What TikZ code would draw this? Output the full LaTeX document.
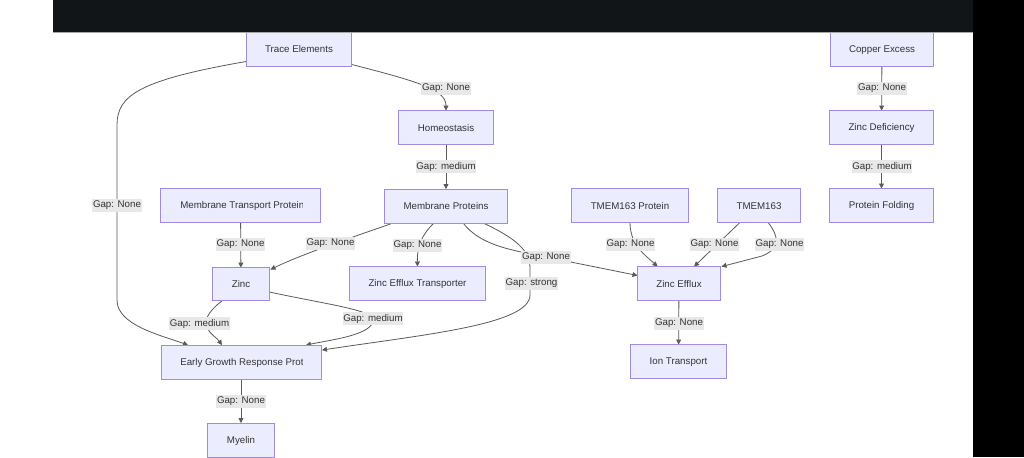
\documentclass[tikz,border=0pt]{standalone}
\usepackage{fontspec}
\setmainfont{Liberation Sans}
\usetikzlibrary{arrows.meta,calc}
\definecolor{boxfill}{HTML}{ECECFF}
\definecolor{boxline}{HTML}{A08AE2}
\definecolor{txt}{HTML}{333333}
\definecolor{conncol}{HTML}{5A5A5A}
\definecolor{lblbg}{HTML}{E8E8E8}
\definecolor{barcol}{HTML}{111518}
\begin{document}
\begin{tikzpicture}[x=0.75pt,y=-0.75pt,
  every node/.style={font=\fontsize{7.3pt}{8.8pt}\selectfont, text=txt},
  box/.style 2 args={draw=boxline, fill=boxfill, line width=0.6pt, inner sep=0pt,
     minimum width=#1*0.75pt, minimum height=#2*0.75pt},
  lbl/.style={fill=lblbg, inner xsep=0.6pt, inner ysep=0pt, minimum height=13*0.75pt},
  conn/.style={draw=conncol, line width=0.6pt, -{Triangle[length=3.8pt,width=3.6pt]}}]
\useasboundingbox (0,0) rectangle (1024,457);
\fill[white] (0,0) rectangle (1024,457);

% nodes (placed first, drawn later for layering)
\path
  (299,49)      node[box={104}{34}] (te) {}
  (882,49.5)    node[box={102}{33}] (ce) {}
  (881.5,127.5) node[box={103}{33}] (zd) {}
  (881.5,205.5) node[box={103}{33}] (pf) {}
  (446,127.5)   node[box={94}{33}] (ho) {}
  (446,206)     node[box={122}{33}] (mp) {}
  (240.5,205.5) node[box={159}{33}] (mtp) {}
  (241,284)     node[box={56}{32}] (zn) {}
  (241,362)     node[box={159}{33}] (egr) {}
  (241,440)     node[box={66}{33}] (my) {}
  (417.5,283.5) node[box={135}{33}] (zet) {}
  (630,205.5)   node[box={116}{33}] (tp) {}
  (759,205.5)   node[box={82}{33}] (tm) {}
  (679,283.5)   node[box={82}{33}] (ze) {}
  (678.5,361.5) node[box={95}{33}] (it) {};

% connectors
\draw[conn] ($(te.south east)+(0,-2)$) .. controls (420,82) and (446,90) .. (ho.north);
\draw[conn] ($(te.south west)+(0,-5)$) .. controls (140,80) and (117,95) .. (117,125)
   -- (117,300) .. controls (117,325) and (160,335) .. ($(egr.north west)+(27,0)$);
\draw[conn] (ho) -- (mp);
\draw[conn] (ce) -- (zd);
\draw[conn] (zd) -- (pf);
\draw[conn] (mtp) -- (zn);
\draw[conn] ($(mp.south west)+(9,0)$) .. controls (350,238) and (300,255) .. ($(zn.north east)+(1,2)$);
\draw[conn] ($(mp.south)+(-12,0)$) .. controls (422,235) and (417,245) .. (zet.north);
\draw[conn] ($(mp.south)+(17,0)$) .. controls (480,245) and (510,250) .. (546,257) -- ($(ze.west)+(0,-8)$);
\draw[conn] ($(mp.south)+(37,0)$) .. controls (515,238) and (530,250) .. (530,268)
   -- (530,295) .. controls (530,325) and (420,335) .. ($(egr.north east)+(1,5)$);
\draw[conn] ($(zn.south west)+(10,0)$) .. controls (190,325) and (215,335) .. ($(egr.north)+(-19,0)$);
\draw[conn] ($(zn.east)+(0,8)$) .. controls (330,305) and (373,310) .. (373,320)
   .. controls (373,335) and (330,340) .. ($(egr.north east)+(-15,0)$);
\draw[conn] (tp.south) .. controls (630,245) and (645,255) .. ($(ze.north west)+(20,0)$);
\draw[conn] ($(tm.south)+(-19,0)$) -- ($(ze.north)+(15,0)$);
\draw[conn] ($(tm.south)+(9,0)$) .. controls (778,235) and (782,248) .. (762,256) -- ($(ze.north east)+(1,0)$);
\draw[conn] (ze) -- (it);
\draw[conn] (egr) -- (my);

% edge labels
\node[lbl] (l1) at (446,88.5) {Gap: None};
\node[lbl] (l2) at (117,205.5) {Gap: None};
\node[lbl] (l3) at (446,166.5) {Gap: medium};
\node[lbl] (l4) at (882,88.5) {Gap: None};
\node[lbl] (l5) at (882,166.5) {Gap: medium};
\node[lbl] (l6) at (240.5,244.5) {Gap: None};
\node[lbl] (l7) at (330.5,243) {Gap: None};
\node[lbl] (l8) at (417.5,245) {Gap: None};
\node[lbl] (l9) at (546,257.5) {Gap: None};
\node[lbl] (l10) at (531.5,283.5) {Gap: strong};
\node[lbl] (l11) at (199.5,323.5) {Gap: medium};
\node[lbl] (l12) at (373,318.5) {Gap: medium};
\node[lbl] (l13) at (630.5,244.5) {Gap: None};
\node[lbl] (l14) at (714.5,244.5) {Gap: None};
\node[lbl] (l15) at (779.5,244.5) {Gap: None};
\node[lbl] (l16) at (679,323.5) {Gap: None};
\node[lbl] (l17) at (241,401.5) {Gap: None};

% boxes drawn on top
\foreach \n in {te,ce,zd,pf,ho,mp,mtp,zn,egr,my,zet,tp,tm,ze,it}{
  \draw[boxline, fill=boxfill, line width=0.6pt] (\n.north west) rectangle (\n.south east);
}
\node (tet) at ($(te)+(0,0.5)$) {Trace Elements};
\node (cet) at ($(ce)+(0,0.5)$) {Copper Excess};
\node (zdt) at ($(zd)+(0,0.5)$) {Zinc Deficiency};
\node (pft) at ($(pf)+(0,0.5)$) {Protein Folding};
\node (hot) at ($(ho)+(0,0.5)$) {Homeostasis};
\node (mpt) at ($(mp)+(0,0.5)$) {Membrane Proteins};
\node (znt) at ($(zn)+(0,0.5)$) {Zinc};
\node (myt) at ($(my)+(0,0.5)$) {Myelin};
\node (zett) at ($(zet)+(0,0.5)$) {Zinc Efflux Transporter};
\node (tpt) at ($(tp)+(0,0.5)$) {TMEM163 Protein};
\node (tmt) at ($(tm)+(0,0.5)$) {TMEM163};
\node (zet2) at ($(ze)+(0,0.5)$) {Zinc Efflux};
\node (itt) at ($(it)+(0,0.5)$) {Ion Transport};
\begin{scope}
  \clip (162,190) rectangle (302,221);
  \node[anchor=west, inner xsep=0pt] (mtpt) at (180,206) {Membrane Transport Protein};
\end{scope}
\begin{scope}
  \clip (162,346) rectangle (302,378);
  \node[anchor=west, inner xsep=0pt] (egrt) at (180,362.5) {Early Growth Response Protein};
\end{scope}

% screen frame
\fill[barcol] (53,0) rectangle (973,32);
\draw[gray!70, line width=0.5pt] (53,32) -- (973,32);
\fill[black] (973,0) rectangle (1024,457);
\end{tikzpicture}
\end{document}
